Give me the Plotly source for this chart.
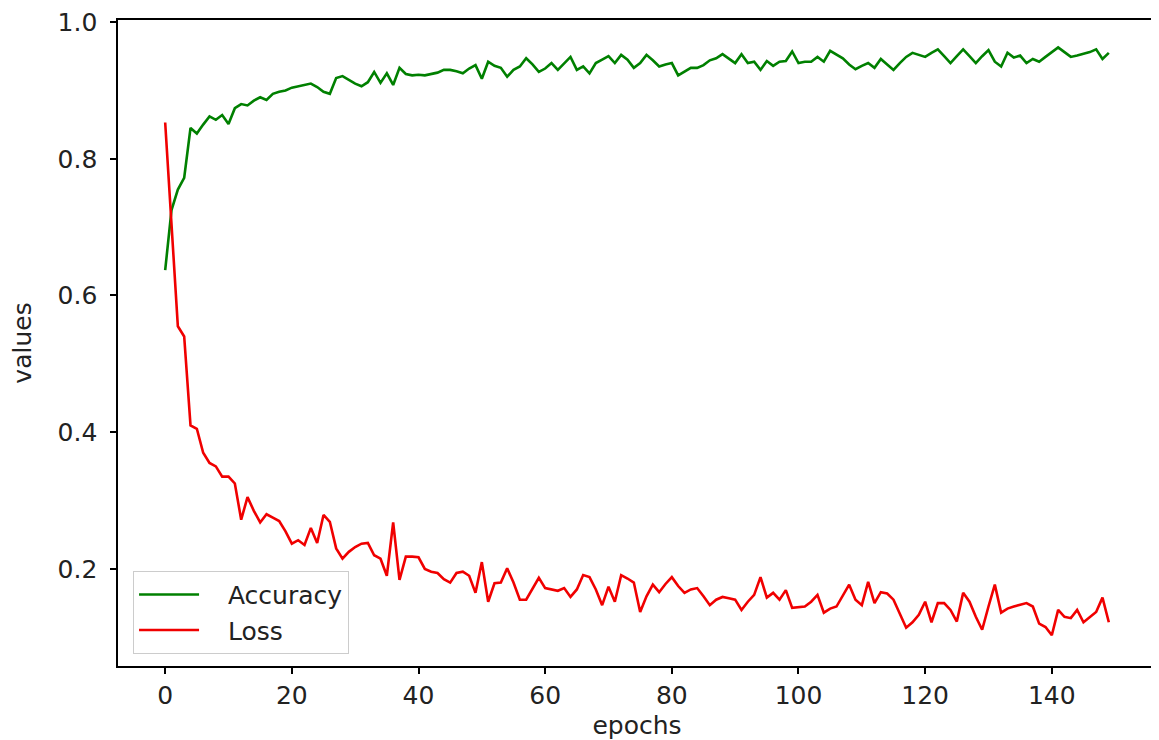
import plotly.graph_objects as go

epochs = list(range(150))

accuracy = [
    0.637, 0.725, 0.755, 0.772, 0.845, 0.837, 0.850, 0.862, 0.857, 0.864,
    0.851, 0.874, 0.880, 0.878, 0.885, 0.890, 0.886, 0.895, 0.898, 0.900,
    0.904, 0.906, 0.909, 0.910, 0.905, 0.898, 0.895, 0.918, 0.921, 0.915,
    0.910, 0.906, 0.912, 0.927, 0.911, 0.925, 0.908, 0.933, 0.924, 0.922,
    0.923, 0.922, 0.924, 0.926, 0.930, 0.930, 0.928, 0.925, 0.932, 0.937,
    0.917, 0.942, 0.936, 0.933, 0.920, 0.930, 0.935, 0.947, 0.938, 0.927,
    0.932, 0.940, 0.930, 0.940, 0.949, 0.930, 0.935, 0.925, 0.940, 0.945,
    0.950, 0.940, 0.952, 0.945, 0.933, 0.940, 0.952, 0.944, 0.935, 0.938,
    0.940, 0.922, 0.928, 0.933, 0.933, 0.937, 0.944, 0.947, 0.953, 0.946,
    0.940, 0.953, 0.940, 0.942, 0.930, 0.943, 0.936, 0.942, 0.943, 0.957,
    0.940, 0.942, 0.942, 0.949, 0.942, 0.958, 0.952, 0.947, 0.938, 0.931,
    0.936, 0.940, 0.933, 0.946, 0.938, 0.930, 0.940, 0.949, 0.955, 0.952,
    0.949, 0.955, 0.960, 0.950, 0.940, 0.950, 0.960, 0.950, 0.940, 0.950,
    0.959, 0.942, 0.935, 0.955, 0.948, 0.951, 0.940, 0.946, 0.942, 0.949,
    0.956, 0.963, 0.956, 0.949, 0.951, 0.953, 0.956, 0.960, 0.946, 0.955,
]

loss = [
    0.853, 0.700, 0.555, 0.540, 0.410, 0.405, 0.370, 0.355, 0.350, 0.335,
    0.335, 0.325, 0.272, 0.305, 0.285, 0.268, 0.280, 0.275, 0.270, 0.255,
    0.237, 0.242, 0.235, 0.260, 0.238, 0.279, 0.269, 0.230, 0.215, 0.225,
    0.232, 0.237, 0.238, 0.220, 0.215, 0.190, 0.268, 0.184, 0.218, 0.218,
    0.217, 0.200, 0.196, 0.194, 0.185, 0.180, 0.194, 0.196, 0.190, 0.165,
    0.210, 0.152, 0.179, 0.180, 0.201, 0.180, 0.155, 0.155, 0.170, 0.187,
    0.172, 0.170, 0.168, 0.172, 0.159, 0.170, 0.191, 0.188, 0.170, 0.147,
    0.174, 0.152, 0.191, 0.186, 0.180, 0.137, 0.160, 0.177, 0.166, 0.178,
    0.188, 0.175, 0.165, 0.170, 0.172, 0.160, 0.147, 0.155, 0.159, 0.157,
    0.155, 0.140, 0.152, 0.162, 0.188, 0.158, 0.165, 0.155, 0.169, 0.143,
    0.144, 0.145, 0.152, 0.162, 0.136, 0.142, 0.145, 0.160, 0.177, 0.155,
    0.147, 0.181, 0.150, 0.166, 0.164, 0.155, 0.135, 0.114, 0.122, 0.133,
    0.152, 0.122, 0.150, 0.150, 0.140, 0.123, 0.165, 0.152, 0.130, 0.111,
    0.145, 0.177, 0.136, 0.142, 0.145, 0.148, 0.150, 0.145, 0.120, 0.115,
    0.103, 0.140, 0.130, 0.128, 0.140, 0.122, 0.130, 0.137, 0.158, 0.122,
]

x_ticks = [0, 20, 40, 60, 80, 100, 120, 140]
y_ticks = [0.2, 0.4, 0.6, 0.8, 1.0]
y_tick_labels = ["0.2", "0.4", "0.6", "0.8", "1.0"]
series_names = ["Accuracy", "Loss"]

font = dict(family="DejaVu Sans", size=25, color="#222222")
pad = "\u00a0\u00a0\u00a0"

fig = go.Figure()
fig.add_trace(go.Scatter(x=epochs, y=accuracy, mode="lines", name=pad + series_names[0],
                         line=dict(color="rgb(0,128,0)", width=2.6)))
fig.add_trace(go.Scatter(x=epochs, y=loss, mode="lines", name=pad + series_names[1],
                         line=dict(color="rgb(240,0,0)", width=2.6)))

axis_common = dict(showline=True, linecolor="black", linewidth=1.5, mirror=True,
                   ticks="outside", ticklen=6, tickwidth=1.5, tickcolor="black",
                   showgrid=False, zeroline=False, tickfont=font, automargin=False,
                   ticklabeloverflow="allow")

fig.update_layout(
    width=1151, height=732,
    margin=dict(l=110, r=3, t=12, b=74),
    paper_bgcolor="white", plot_bgcolor="white",
    font=font,
    xaxis=dict(range=[-7.45, 156.45], tickvals=x_ticks,
               title=dict(text="epochs", font=font, standoff=10), **axis_common),
    yaxis=dict(range=[0.058, 1.003], tickvals=y_ticks, ticktext=[t + "\u00a0" for t in y_tick_labels],
               title=dict(text="values", font=font, standoff=30), **axis_common),
    legend=dict(x=0.0145, y=0.019, xanchor="left", yanchor="bottom",
                bgcolor="rgba(255,255,255,0.8)", bordercolor="#cccccc", borderwidth=1,
                font=font, tracegroupgap=0, itemwidth=60),
    showlegend=True,
)

fig.write_html("out.html")
